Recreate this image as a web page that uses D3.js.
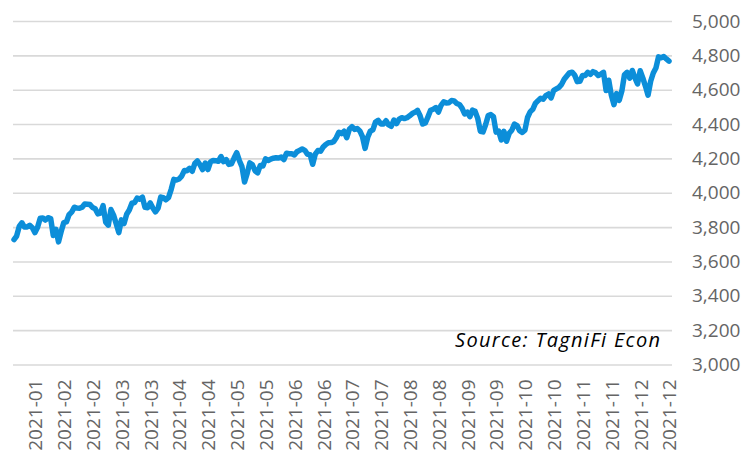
<!DOCTYPE html>
<html>
<head>
<meta charset="utf-8">
<script src="https://cdn.jsdelivr.net/npm/d3@7"></script>
<style>
  body { margin: 0; background: #fff; }
  svg { display: block; }
</style>
</head>
<body>
<svg width="753" height="455"></svg>
<script>
// daily closes, 2021 (from Jan 5), one array per month
let jan = [3727, 3748, 3804, 3825, 3800, 3801, 3810, 3796, 3768, 3799, 3852, 3853, 3841, 3855, 3850, 3751, 3787, 3714];
let feb = [3774, 3826, 3830, 3872, 3887, 3916, 3911, 3910, 3916, 3935, 3933, 3931, 3914, 3907, 3877, 3881, 3925, 3829, 3811];
let mar = [3902, 3870, 3820, 3768, 3842, 3821, 3875, 3899, 3939, 3943, 3969, 3963, 3974, 3915, 3913, 3941, 3911, 3889, 3910, 3975, 3971, 3959, 3973];
let apr = [4020, 4078, 4074, 4080, 4097, 4129, 4128, 4142, 4125, 4170, 4185, 4163, 4135, 4173, 4135, 4180, 4188, 4187, 4183, 4211, 4181];
let may = [4193, 4165, 4168, 4202, 4233, 4188, 4152, 4063, 4113, 4174, 4163, 4128, 4116, 4159, 4156, 4197, 4188, 4196, 4201, 4204];
let jun = [4202, 4208, 4193, 4230, 4227, 4227, 4220, 4239, 4247, 4255, 4247, 4224, 4222, 4166, 4225, 4246, 4242, 4266, 4281, 4291, 4292, 4298];
let jul = [4320, 4352, 4344, 4358, 4321, 4370, 4385, 4369, 4374, 4360, 4327, 4258, 4323, 4359, 4367, 4412, 4422, 4401, 4401, 4419, 4395];
let aug = [4387, 4423, 4403, 4429, 4437, 4432, 4437, 4448, 4461, 4468, 4480, 4448, 4400, 4406, 4442, 4480, 4486, 4496, 4470, 4509, 4529, 4523];
let sep = [4524, 4537, 4535, 4520, 4514, 4493, 4459, 4469, 4443, 4481, 4474, 4433, 4358, 4354, 4396, 4449, 4455, 4443, 4353, 4359, 4308];
let oct = [4357, 4300, 4346, 4364, 4400, 4391, 4361, 4351, 4364, 4438, 4471, 4486, 4520, 4536, 4550, 4545, 4566, 4575, 4552, 4596, 4605];
let nov = [4614, 4631, 4661, 4680, 4698, 4702, 4685, 4647, 4649, 4683, 4683, 4701, 4689, 4705, 4698, 4683, 4691, 4701, 4595, 4655, 4567];
let dec = [4513, 4577, 4538, 4592, 4687, 4701, 4667, 4712, 4669, 4634, 4710, 4669, 4621, 4568, 4649, 4697, 4726, 4791, 4786, 4793, 4779, 4766];

let closes = [].concat(jan, feb, mar, apr, may, jun, jul, aug, sep, oct, nov, dec);

let tickLabels = ["2021-01", "2021-02", "2021-02", "2021-03", "2021-03", "2021-04", "2021-04",
                  "2021-05", "2021-05", "2021-06", "2021-06", "2021-07", "2021-07", "2021-08",
                  "2021-08", "2021-09", "2021-09", "2021-10", "2021-10", "2021-11", "2021-11",
                  "2021-12", "2021-12"];
let yTicks = [3000, 3200, 3400, 3600, 3800, 4000, 4200, 4400, 4600, 4800, 5000];

let svg = d3.select("svg");
let font = "'Open Sans', 'Liberation Sans', sans-serif";

let x = d3.scaleLinear()
    .domain([0, closes.length - 1])
    .range([14, 669]);

let y = d3.scaleLinear()
    .domain([3000, 5000])
    .range([364.5, 21]);

// gridlines + right-hand labels
let yAxis = svg.append("g")
    .attr("transform", "translate(672,0)")
    .call(d3.axisRight(y)
        .tickValues(yTicks)
        .tickSize(-659)
        .tickPadding(20)
        .tickFormat(d3.format(",")));

yAxis.select(".domain").remove();
yAxis.selectAll("line")
    .attr("stroke", "#d9d9d9")
    .attr("stroke-width", 1.6);
yAxis.selectAll("text")
    .attr("font-family", font)
    .attr("font-size", "19px")
    .attr("fill", "#656565");

// month labels every 11 trading days, rotated
let tickIdx = tickLabels.map(function(d, i) { return 8 + i * 11; });

let xAxis = svg.append("g")
    .attr("transform", "translate(0,364.5)")
    .call(d3.axisBottom(x)
        .tickValues(tickIdx)
        .tickSize(0)
        .tickFormat(function(d, i) { return tickLabels[i]; }));

xAxis.select(".domain").remove();
xAxis.selectAll("text")
    .attr("font-family", font)
    .attr("font-size", "19px")
    .attr("fill", "#656565")
    .attr("transform", "rotate(-90)")
    .attr("text-anchor", "end")
    .attr("x", -15)
    .attr("y", 0)
    .attr("dy", "0.36em");

let line = d3.line()
    .x(function(d, i) { return x(i); })
    .y(function(d) { return y(d); });

svg.append("path")
    .datum(closes)
    .attr("d", line)
    .attr("fill", "none")
    .attr("stroke", "#0c8ed9")
    .attr("stroke-width", 5.5)
    .attr("stroke-linejoin", "round")
    .attr("stroke-linecap", "round");

svg.append("text")
    .attr("x", 660)
    .attr("y", 347)
    .attr("text-anchor", "end")
    .attr("font-family", font)
    .attr("font-style", "italic")
    .attr("font-size", "20px")
    .attr("textLength", 205)
    .attr("lengthAdjust", "spacing")
    .attr("fill", "#000")
    .text("Source: TagniFi Econ");
</script>
</body>
</html>
